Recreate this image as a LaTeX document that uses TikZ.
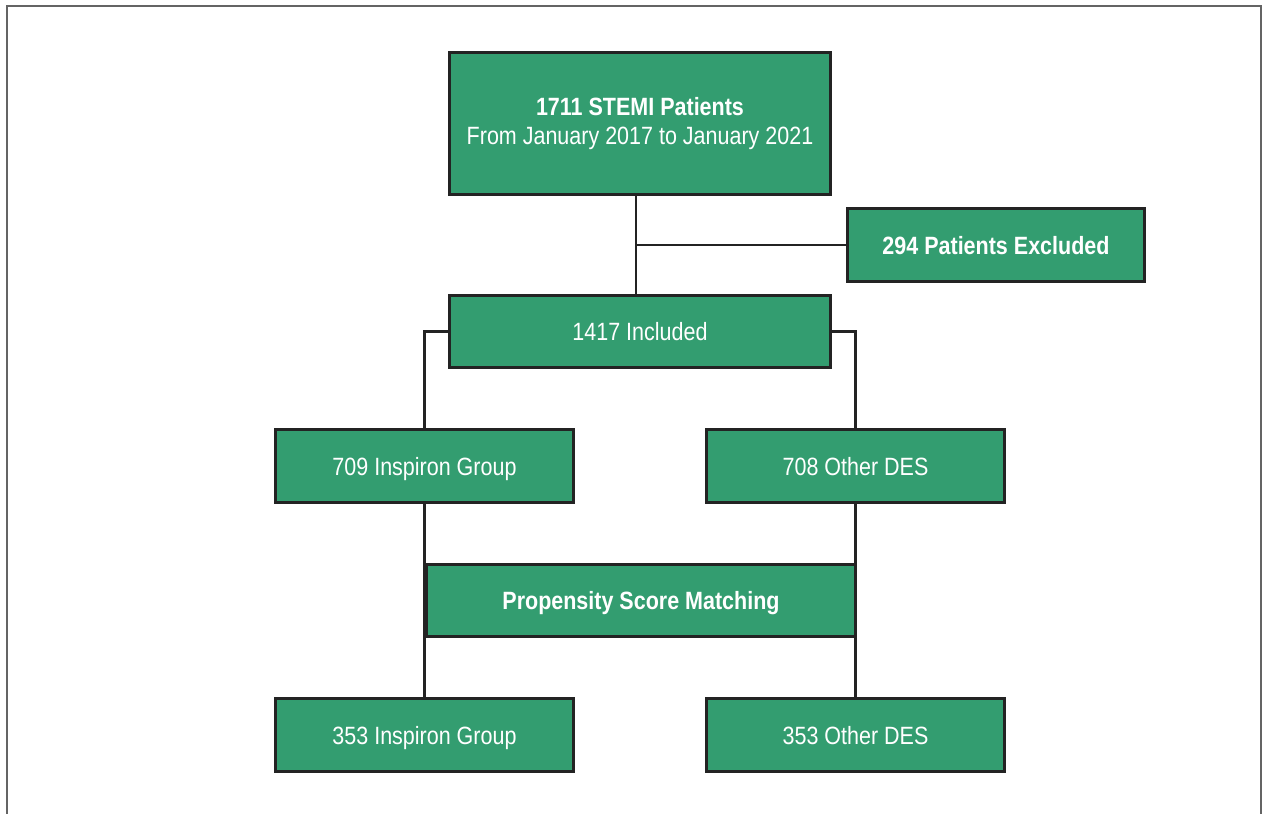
\documentclass[tikz,border=0pt]{standalone}
\usepackage{fontspec}
\setmainfont[FakeStretch=0.86]{Liberation Sans}
\definecolor{boxgreen}{RGB}{51,157,112}
\definecolor{boxline}{RGB}{35,35,35}
\definecolor{framegray}{RGB}{100,100,100}
\begin{document}
\begin{tikzpicture}[x=1pt,y=-1pt,
  box/.style={draw=boxline, fill=boxgreen, line width=2.6pt, text=white,
    font=\fontsize{25}{29}\selectfont, align=center, inner sep=0pt},
  one/.style={box, text height=18pt, text depth=0pt},
  conn/.style={draw=boxline, line width=2.6pt}]
\useasboundingbox (0,0) rectangle (1264,814);
\draw[framegray, line width=2pt] (6.5,814) -- (6.5,6) -- (1261,6) -- (1261,814);
\node[box, minimum width=381.5, minimum height=142.5] (top) at (640,123.5)
  {{\bfseries 1711 STEMI Patients}\\From January 2017 to January 2021};
\node[one, minimum width=297.5, minimum height=73.5, font=\fontsize{25}{29}\selectfont\bfseries] (excl) at (996,245) {294 Patients Excluded};
\node[one, minimum width=381.5, minimum height=72.5] (incl) at (640,331.5) {1417 Included};
\node[one, minimum width=298.5, minimum height=73.5] (i709) at (424.5,466) {709 Inspiron Group};
\node[one, minimum width=297.5, minimum height=73.5] (o708) at (855.5,466) {708 Other DES};
\node[one, minimum width=429.5, minimum height=72.5, font=\fontsize{25}{29}\selectfont\bfseries] (psm) at (641,600.5) {Propensity Score Matching};
\node[one, minimum width=298.5, minimum height=73.5] (i353) at (424.5,735) {353 Inspiron Group};
\node[one, minimum width=297.5, minimum height=73.5] (o353) at (855.5,735) {353 Other DES};
\coordinate (j) at ([xshift=-4pt]top.south |- excl.west);
\draw[conn] ([xshift=-4pt]top.south) -- ([xshift=-4pt]incl.north);
\draw[conn] (j) -- (excl.west);
\draw[conn] (incl.west) -| (i709.north);
\draw[conn] (incl.east) -| (o708.north);
\draw[conn] (i709.south) -- (i353.north);
\draw[conn] (o708.south) -- (o353.north);
\end{tikzpicture}
\end{document}
